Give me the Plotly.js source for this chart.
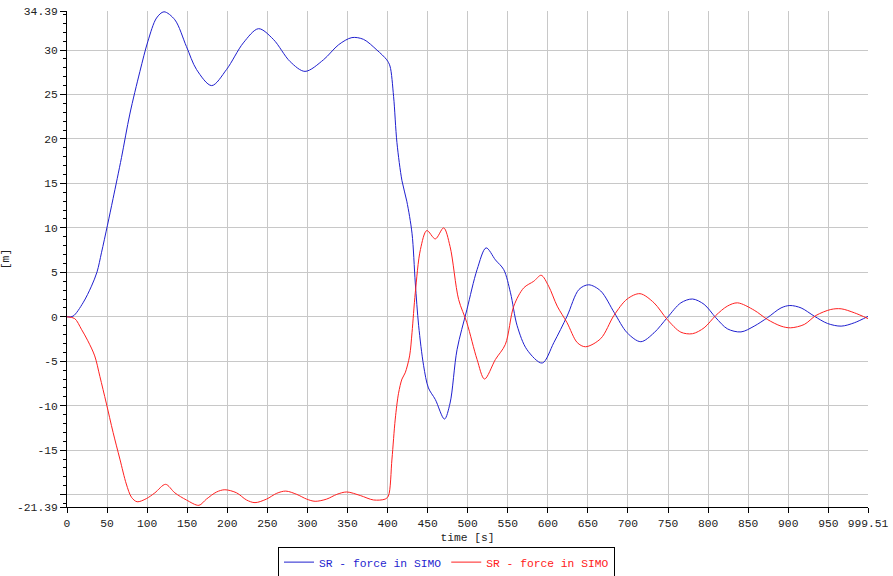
<!DOCTYPE html>
<html>
<head>
<meta charset="utf-8">
<script src="https://cdn.plot.ly/plotly-3.0.1.min.js"></script>
<style>
    body { margin: 0; background: #fff; }
    #chart { width: 893px; height: 576px; }
</style>
</head>
<body>
<div id="chart"></div>
<script>
var blueTime = [0, 7.5, 20, 30.5, 37.5, 43, 50.5, 57.5, 68, 78.4, 91, 101, 111.7, 121, 134.6, 149, 161.7, 180.5,
    199, 220, 239, 257.5, 278.4, 297, 320, 339, 355.5, 370, 386.7, 399, 403, 407.5, 411.7, 418,
    424, 430.5, 434.6, 438.8, 445, 451, 459.6, 471, 478, 486.7, 499, 511.7, 523, 534.6, 545,
    553.4, 561.7, 574, 593, 607.5, 624, 638.8, 651, 666, 683, 699, 716, 732.5, 749, 766, 780.5,
    795, 809.6, 824, 841, 857.5, 874, 891, 902, 916, 932.5, 949, 966, 982.5, 999.51]
var blueForce = [0, 0.07, 1.57, 3.44, 5.05, 7.2, 10.3, 13.3, 17.9, 22.8, 27.6, 31.0, 33.6, 34.3, 33.4, 30.4, 27.8, 26.0,
    27.8, 30.8, 32.4, 31.2, 28.7, 27.6, 28.9, 30.6, 31.4, 31.2, 30.0, 28.9, 28.2, 24.8, 19.6, 15.3,
    13.0, 9.4, 3.8, -1.0, -5.5, -8.0, -9.3, -11.5, -9.7, -3.7, 0.8, 5.3, 7.75, 6.4, 5.3,
    2.7, -1.0, -3.7, -5.2, -2.9, 0.07, 3.07, 3.6, 2.9, 0.45, -1.8, -2.8, -1.8, -0.1, 1.57, 2.0,
    1.4, -0.1, -1.35, -1.7, -1.05, -0.1, 1.0, 1.27, 1.0, 0.07, -0.75, -1.05, -0.67, 0.05]

var redTime = [0, 9.6, 18, 26, 34.6, 41, 49, 57.5, 66, 74, 80.5, 87.5, 99, 109.6, 123, 134.6, 149,
    164.6, 174, 186.7, 197, 211.7, 224, 234.6, 249, 261.7, 273, 286.7, 299, 309.6, 324, 336.7,
    349, 366, 382.5, 397, 401, 405.5, 409.6, 413.7, 418, 422, 427.5, 430.5, 434.6, 441, 449,
    459.6, 470, 478, 488.7, 499, 511.7, 521, 534.6, 547, 557.5, 570, 582.5, 591.7, 601, 611.7,
    624, 636.7, 647, 666, 682.5, 699, 715, 732.5, 749, 766, 780.5, 795, 809.6, 824, 836.7,
    857.5, 874, 891, 903, 920, 934.6, 953, 966, 982.5, 999.51]
var redForce = [0, -0.2, -1.4, -2.7, -4.4, -6.7, -9.7, -13.0, -16.0, -18.8, -20.3, -20.8, -20.45, -19.8, -18.84, -19.8, -20.6,
    -21.2, -20.5, -19.7, -19.45, -19.8, -20.6, -20.9, -20.5, -19.85, -19.6, -19.97, -20.5, -20.75, -20.5, -19.97,
    -19.7, -20.1, -20.6, -20.5, -20.15, -16.0, -11.5, -8.6, -7.0, -6.3, -4.4, -1.8, 2.7, 7.56, 9.7,
    8.76, 10.0, 7.9, 1.94, -0.67, -4.8, -7.0, -4.8, -3.1, 1.2, 3.26, 4.0, 4.67, 3.44, 1.2,
    -0.67, -2.9, -3.37, -2.45, 0.15, 2.0, 2.6, 1.57, -0.3, -1.73, -1.9, -1.24, 0.15, 1.2, 1.57,
    0.74, -0.3, -1.05, -1.24, -0.86, 0.15, 0.82, 0.9, 0.45, -0.2]

var xTickVals = [0, 50, 100, 150, 200, 250, 300, 350, 400, 450, 500, 550, 600, 650, 700, 750, 800, 850, 900, 950, 999.51]
var xTickText = ["0", "50", "100", "150", "200", "250", "300", "350", "400", "450", "500", "550", "600", "650",
    "700", "750", "800", "850", "900", "950", "999.51"]
var yTickVals = [-21.39, -20, -15, -10, -5, 0, 5, 10, 15, 20, 25, 30, 34.39]
var yTickText = ["-21.39", "", "-15", "-10", "-5", "0", "5", "10", "15", "20", "25", "30", "34.39"]

var monoFont = "Liberation Mono, Courier New, monospace"
var gridColor = "#c8c8c8"

Plotly.newPlot(
    document.getElementById("chart"),
    [{
        type: "scatter",
        mode: "lines",
        x: blueTime,
        y: blueForce,
        name: '<span style="color:#1f1fcf">SR - force in SIMO</span>',
        line: { color: "#1f1fcf", width: 1, shape: "spline", smoothing: 0.9 },
        hoverinfo: "skip",
    }, {
        type: "scatter",
        mode: "lines",
        x: redTime,
        y: redForce,
        name: '<span style="color:#ff2020">SR - force in SIMO</span>',
        line: { color: "#ff2020", width: 1, shape: "spline", smoothing: 0.9 },
        hoverinfo: "skip",
    }],
    {
        width: 893,
        height: 576,
        margin: {t: 11, l: 67, r: 25, b: 69},
        paper_bgcolor: "#fff",
        plot_bgcolor: "#fff",
        font: { family: monoFont, size: 11.3, color: "#222" },
        showlegend: true,
        legend: {
            orientation: "h",
            xref: "container",
            yref: "container",
            x: 0.5,
            xanchor: "center",
            y: 0.051,
            yanchor: "top",
            bordercolor: "#000",
            borderwidth: 1,
            itemwidth: 30,
            font: { family: monoFont, size: 11.3 },
        },
        xaxis: {
            range: [0, 999.51],
            tickmode: "array",
            tickvals: xTickVals,
            ticktext: xTickText,
            ticks: "outside",
            ticklen: 5,
            tickcolor: "#000",
            showline: true,
            linecolor: "#000",
            linewidth: 1,
            showgrid: true,
            gridcolor: gridColor,
            zeroline: false,
            title: { text: "time [s]", font: { family: monoFont, size: 11.3 }, standoff: 4 },
        },
        yaxis: {
            range: [-21.39, 34.39],
            tickmode: "array",
            tickvals: yTickVals,
            ticktext: yTickText,
            ticks: "outside",
            ticklen: 6,
            tickcolor: "#000",
            showline: true,
            linecolor: "#000",
            linewidth: 1,
            showgrid: true,
            gridcolor: gridColor,
            zeroline: false,
            minor: { tickmode: "linear", tick0: 0, dtick: 1, ticks: "outside", ticklen: 3, tickcolor: "#000", showgrid: false },
            title: { text: "[m]", font: { family: monoFont, size: 11.3 }, standoff: 8 },
        },
    },
    { staticPlot: true }
)
</script>
</body>
</html>
